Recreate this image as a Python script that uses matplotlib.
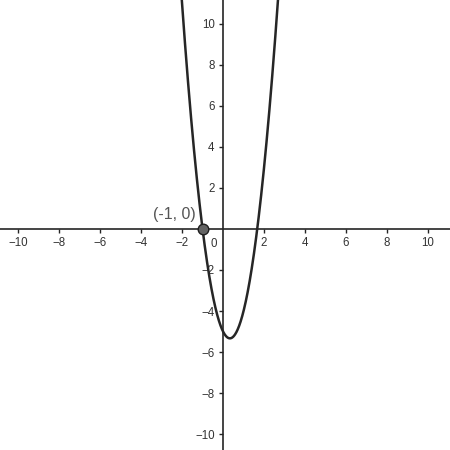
import matplotlib
matplotlib.use("Agg")
import matplotlib.pyplot as plt
import numpy as np

# parabola y = a*x^2 + b*x + c (roots -1 and 5/3, vertex ~(1/3, -5.33))
coef_a = 3
coef_b = -2
coef_c = -5

point_x = [-1]
point_y = [0]
point_label = "(-1, 0)"

x_ticks = [-10, -8, -6, -4, -2, 2, 4, 6, 8, 10]
y_ticks = [-10, -8, -6, -4, -2, 2, 4, 6, 8, 10]

plt.rcParams['font.family'] = ['Liberation Sans', 'DejaVu Sans']

fig = plt.figure(figsize=(4.5, 4.5), dpi=100)
ax = fig.add_axes([0, 0, 1, 1])

ax.set_xlim(-10.88, 11.07)
ax.set_ylim(-10.78, 11.17)

xs = np.linspace(-3, 3, 600)
ys = coef_a * xs**2 + coef_b * xs + coef_c
ax.plot(xs, ys, color="#262626", lw=1.8, zorder=3)

ax.plot(point_x, point_y, "o", ms=7.6, mfc="#636363", mec="#1e1e1e", mew=1.0, zorder=4)
ax.annotate(point_label, (point_x[0], point_y[0]), xytext=(-5, 5), textcoords="offset points",
            ha="right", va="bottom", fontsize=11.5, color="#555555")

for side in ["top", "right"]:
    ax.spines[side].set_visible(False)
ax.spines["left"].set_position(("data", 0))
ax.spines["bottom"].set_position(("data", 0))
for side in ["left", "bottom"]:
    ax.spines[side].set_color("#252525")
    ax.spines[side].set_linewidth(1.2)

ax.set_xticks(x_ticks)
ax.set_yticks(y_ticks)
ax.set_xticklabels([str(t).replace("-", "\u2212") for t in x_ticks])
ax.set_yticklabels([str(t).replace("-", "\u2212") for t in y_ticks])
ax.tick_params(axis="both", direction="out", length=3, width=1, color="#252525",
               labelsize=8.3, labelcolor="#333333", pad=3)

ax.text(-0.3, -0.45, "0", ha="right", va="top", fontsize=8.3, color="#333333")

fig.savefig("out.png", dpi=100)
